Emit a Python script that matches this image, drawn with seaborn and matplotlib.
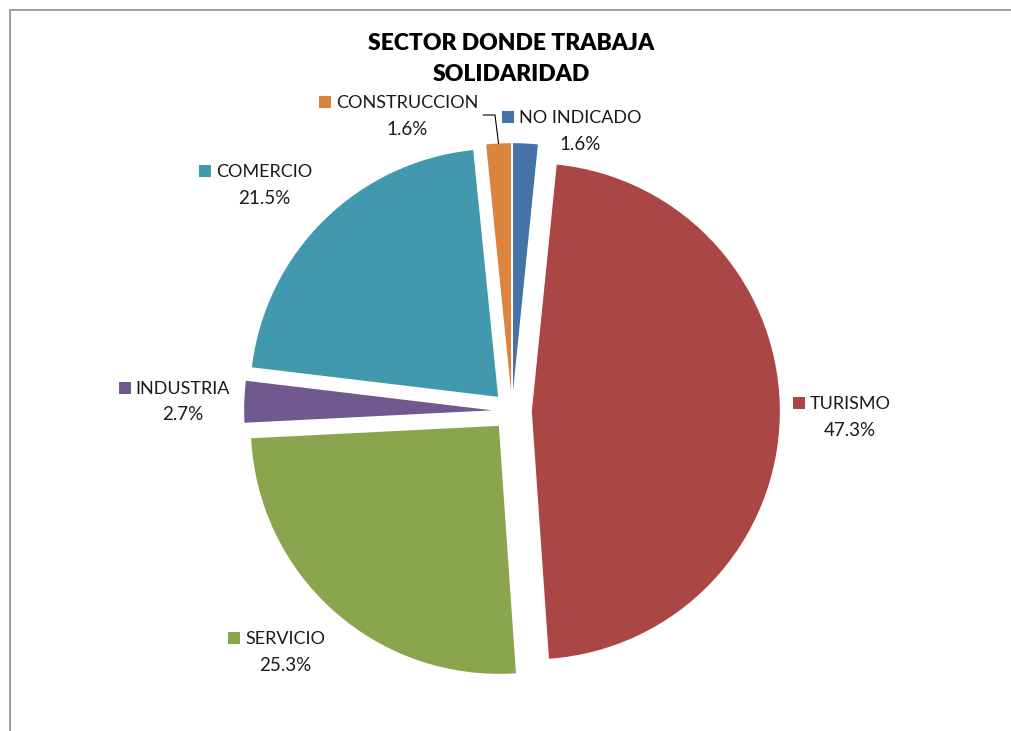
import matplotlib
matplotlib.use("Agg")
import numpy as np
import matplotlib.pyplot as plt
import seaborn as sns
from matplotlib.patches import Rectangle
from matplotlib.lines import Line2D

# data (clockwise from 12 o'clock)
sectores = ['NO INDICADO', 'TURISMO', 'SERVICIO', 'INDUSTRIA', 'COMERCIO', 'CONSTRUCCION']
porcentajes = [1.6, 47.3, 25.3, 2.7, 21.5, 1.6]
colores = ['#4572A7', '#AA4643', '#89A54E', '#71588F', '#4198AF', '#DB843D']

# label placement in pixels: name centre x, name baseline, percent baseline
label_pos = [
    (580, 123, 150),
    (850, 409, 436),
    (285, 644, 671),
    (183, 394, 420),
    (264, 177, 204),
    (407, 108, 135),
]

W, H = 1011, 731
sns.set_theme(style='white')
plt.rcParams['font.family'] = ['Lato', 'DejaVu Sans']

fig = plt.figure(figsize=(W / 100, H / 100), dpi=100)

def fpx(x, y):
    return x / W, 1 - y / H

# pie centre and radius in pixels
cx, cy, r_px = 512, 411, 248
half = 1.25
ax = fig.add_axes([(cx - half * r_px) / W, 1 - (cy + half * r_px) / H,
                   2 * half * r_px / W, 2 * half * r_px / H])
wedges, _ = ax.pie(porcentajes, colors=colores, startangle=90, counterclock=False,
                   explode=[0.08] * len(porcentajes), radius=1,
                   wedgeprops=dict(linewidth=0))
ax.set_xlim(-half, half)
ax.set_ylim(-half, half)
ax.set_aspect('equal')
ax.axis('off')

# title
fig.text(*fpx(511, 50), 'SECTOR DONDE TRABAJA', ha='center', va='baseline',
         fontsize=16.5, fontweight='heavy', color='black')
fig.text(*fpx(511, 81), 'SOLIDARIDAD', ha='center', va='baseline',
         fontsize=16.5, fontweight='heavy', color='black')

# data labels: coloured key + name, percentage below
txt_color = '#1a1a1a'
name_texts = []
for nombre, pct, (lx, bl, pbl) in zip(sectores, porcentajes, label_pos):
    t = fig.text(*fpx(lx, bl), nombre, ha='center', va='baseline', fontsize=13, color=txt_color)
    fig.text(*fpx(lx, pbl), f'{pct:.1f}%', ha='center', va='baseline', fontsize=13.5, color=txt_color)
    name_texts.append(t)

fig.canvas.draw()
renderer = fig.canvas.get_renderer()
for t, col, (lx, bl, pbl) in zip(name_texts, colores, label_pos):
    bb = t.get_window_extent(renderer)
    sq = Rectangle(((bb.x0 - 5 - 12) / W, (H - bl) / H), 12 / W, 12 / H,
                   transform=fig.transFigure, facecolor=col, edgecolor='none')
    fig.add_artist(sq)

# leader line for CONSTRUCCION
w = wedges[5]
mid = np.deg2rad((w.theta1 + w.theta2) / 2)
tip = np.array(w.center) + w.r * np.array([np.cos(mid), np.sin(mid)])
tip_disp = ax.transData.transform(tip)
bb = name_texts[5].get_window_extent(renderer)
xs = [(bb.x1 + 5) / W, 495 / W, tip_disp[0] / W]
ys = [1 - 115 / H, 1 - 115 / H, tip_disp[1] / H]
fig.add_artist(Line2D(xs, ys, transform=fig.transFigure, color='black', linewidth=0.8))

# chart area border (top and left edges visible)
fig.add_artist(Line2D([9.5 / W, 9.5 / W, 1], [0, 1 - 9.5 / H, 1 - 9.5 / H],
                      transform=fig.transFigure, color='#8c8c8c', linewidth=1.2))

fig.savefig('out.png', dpi=100)
